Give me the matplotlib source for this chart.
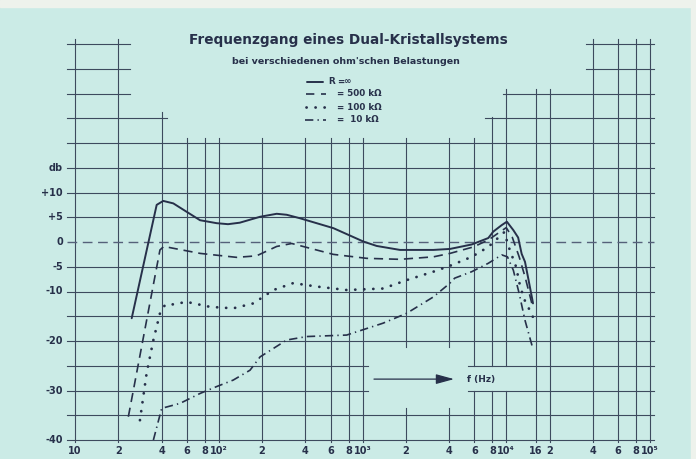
import matplotlib
matplotlib.use("Agg")
import matplotlib.pyplot as plt
from matplotlib import font_manager
from matplotlib.lines import Line2D
from matplotlib.patches import Rectangle

# ---------------- data ----------------
freq_inf = [24.8, 37.0, 41.1, 48.3, 59.8, 74.1, 96.8, 116, 140, 194, 253, 297, 367, 627,
            1013, 1256, 1824, 3110, 4064, 5750, 7500, 8123, 9290, 10100, 11200, 12100,
            12800, 13500, 14300, 15200, 15350]
db_inf = [-15.4, 7.5, 8.3, 7.8, 6.1, 4.4, 3.8, 3.6, 3.9, 5.1, 5.7, 5.5, 4.8, 2.8,
          0.1, -0.8, -1.6, -1.6, -1.4, -0.5, 0.8, 2.1, 3.4, 4.1, 2.4, 0.9,
          -2.4, -4.0, -7.7, -11.7, -12.4]

freq_500k = [23.5, 39.0, 41.5, 74.1, 133, 183, 253, 322, 410, 627, 1070, 1824, 3110,
             4064, 5900, 7500, 9000, 10000, 11000, 12300, 13500, 14500, 15300]
db_500k = [-35.3, -1.6, -0.9, -2.3, -3.1, -2.8, -0.9, -0.3, -1.1, -2.5, -3.3, -3.5, -3.0,
           -2.3, -1.0, 0.4, 2.0, 2.9, 1.0, -3.0, -7.0, -10.5, -13.2]

freq_100k = [28.3, 31.5, 35.1, 39.0, 42.3, 45.8, 59.8, 86.8, 126, 174, 240, 330, 480,
             776, 1390, 2030, 3110, 4064, 5750, 7500, 9700, 10400, 11700, 12500, 13400,
             14400, 15300]
db_100k = [-36.0, -26.5, -19.8, -14.4, -12.7, -12.7, -12.1, -13.1, -13.4, -12.4, -9.7, -8.3,
           -9.0, -9.7, -9.4, -7.7, -6.0, -4.8, -3.0, -1.0, 2.0, -1.0, -5.0, -9.0, -11.7,
           -13.5, -15.1]

freq_10k = [35.1, 40.1, 53.8, 74.1, 96.8, 126, 165, 194, 297, 410, 776, 1390, 2030, 3110,
            4064, 4380, 5750, 7500, 9300, 10200, 11200, 12300, 13500, 15300]
db_10k = [-40.0, -33.6, -32.6, -30.6, -29.2, -27.9, -25.9, -23.2, -19.8, -19.1, -18.8, -16.4,
          -14.4, -11.1, -8.3, -7.3, -6.0, -4.3, -2.6, -3.0, -5.7, -10.4, -15.8, -21.5]

title = "Frequenzgang eines Dual-Kristallsystems"
subtitle = "bei verschiedenen ohm'schen Belastungen"
legend_labels = ["=\u221e", "= 500 k\u03a9", "= 100 k\u03a9", "=  10 k\u03a9"]
y_label_vals = [15, 10, 5, 0, -5, -10, -20, -30, -40]
y_label_txt = ["db", "+10", "+5", "0", "-5", "-10", "-20", "-30", "-40"]
x_tick_freqs = [10, 20, 40, 60, 80, 100, 200, 400, 600, 800, 1000, 2000, 4000, 6000,
                8000, 10000, 16000, 20000, 40000, 60000, 80000, 100000]
x_tick_txt = ["10", "2", "4", "6", "8", "10\u00b2", "2", "4", "6", "8", "10\u00b3", "2",
              "4", "6", "8", "10\u2074", "16", "2", "4", "6", "8", "10\u2075"]

# ---------------- style ----------------
names = {f.name for f in font_manager.fontManager.ttflist}
narrow = "Liberation Sans Narrow" if "Liberation Sans Narrow" in names else "DejaVu Sans"
FAM = [narrow, "DejaVu Sans"]
BG = "#cbebe6"
GRID = "#3d4a5e"
INK = "#27304a"

W, H = 696, 459
fig = plt.figure(figsize=(W / 100, H / 100), dpi=100, facecolor=BG)
ax = fig.add_axes([75 / W, 19 / H, 575 / W, 396 / H])
ax.set_xscale("log")
ax.set_xlim(10, 1e5)
ax.set_ylim(-40, 40)
ax.axis("off")

# paper strips of the scan
fig.add_artist(Rectangle((0, 1 - 7 / H), 1, 7 / H, transform=fig.transFigure,
                         color="#eef2ec", zorder=0))
fig.add_artist(Rectangle((1 - 5 / W, 0), 5 / W, 1, transform=fig.transFigure,
                         color="#eef2ec", zorder=0))

# ---------------- paper grid ----------------
LX, RX = 8.8, 1.06e5
h_segments = {
    40: [(LX, 24), (36000, RX)],
    35: [(LX, 24), (36000, RX)],
    30: [(LX, 24), (9500, RX)],
    25: [(LX, 44), (7100, RX)],
    -25: [(LX, 1090), (5420, RX)],
    -30: [(LX, 1090), (5420, RX)],
}
for lvl in range(20, -45, -5):
    if lvl == 0:
        continue
    h_segments.setdefault(lvl, [(LX, RX)])
for lvl, segs in h_segments.items():
    for a, b in segs:
        ax.plot([a, b], [lvl, lvl], color=GRID, lw=0.8, clip_on=False, zorder=1)

B = -40.4
v_segments = {
    10: [(B, 41)], 20: [(B, 41)], 40: [(B, 26.2)],
    2000: [(B, -33.5), (-21.2, 21)], 4000: [(B, -33.5), (-21.2, 21)],
    6000: [(B, -30), (-25, 21)], 8000: [(B, -30), (-25, 25.3)],
    10000: [(B, -30), (-25, 31)], 16000: [(B, 31)], 20000: [(B, 31)],
    40000: [(B, 41)], 60000: [(B, 41)], 80000: [(B, 41)], 100000: [(B, 41)],
}
for f in [60, 80, 100, 200, 400, 600, 800, 1000]:
    v_segments[f] = [(B, 21)]
for f, segs in v_segments.items():
    for a, b in segs:
        ax.plot([f, f], [a, b], color=GRID, lw=0.8, clip_on=False, zorder=1)

# zero reference (dashed)
ax.plot([LX, RX], [0, 0], color="#55617a", lw=1.0, ls=(0, (7, 4)), clip_on=False, zorder=1)

# ---------------- curves ----------------
ST_SOLID = dict(color=INK, lw=1.4, ls="-", solid_capstyle="round", solid_joinstyle="round")
ST_DASH = dict(color=INK, lw=1.2, ls=(0, (5.5, 3.5)))
ST_DOT = dict(color=INK, lw=2.0, ls=(0, (0.05, 3.2)), dash_capstyle="round")
ST_DDOT = dict(color=INK, lw=1.2, ls=(0, (5, 2.5, 0.8, 2.5)))

ax.plot(freq_inf, db_inf, zorder=3, clip_on=False, **ST_SOLID)
ax.plot(freq_500k, db_500k, zorder=3, clip_on=False, **ST_DASH)
ax.plot(freq_100k, db_100k, zorder=3, clip_on=False, **ST_DOT)
ax.plot(freq_10k, db_10k, zorder=3, clip_on=False, **ST_DDOT)

# ---------------- labels ----------------
ytr = ax.get_yaxis_transform()
for v, t in zip(y_label_vals, y_label_txt):
    ax.text(-12 / 575, v, t, transform=ytr, ha="right", va="center", fontsize=7,
            fontweight="bold", color=INK, family=FAM)
for f, t in zip(x_tick_freqs, x_tick_txt):
    ax.text(f, -42.3, t, ha="center", va="center", fontsize=7, fontweight="bold",
            color=INK, family=FAM, clip_on=False)

# arrow + f (Hz)
ax.annotate("", xy=(4335, -27.7), xytext=(1202, -27.7),
            arrowprops=dict(arrowstyle="-|>,head_length=1.1,head_width=0.3",
                            color=INK, lw=0.9, shrinkA=0, shrinkB=0))
ax.text(5335, -27.7, "f (Hz)", ha="left", va="center", fontsize=6.5, fontweight="bold",
        color=INK, family=FAM)

# title
fig.text(348 / W, 1 - 40 / H, title, ha="center", va="center", fontsize=9.8,
         fontweight="bold", color=INK, family=FAM)
fig.text(232 / W, 1 - 61 / H, subtitle, ha="left", va="center", fontsize=6.8,
         fontweight="bold", color=INK, family=FAM)

# legend
leg_y = [82, 94, 107, 120]
leg_styles = [ST_SOLID, ST_DASH, ST_DOT, ST_DDOT]
leg_x = [(307, 323), (306, 326), (306, 327), (305, 326)]
for (x0, x1), y, st, lab in zip(leg_x, leg_y, leg_styles, legend_labels):
    st2 = dict(st)
    if st2.get("ls") == (0, (5.5, 3.5)):
        st2["ls"] = (0, (5, 4))
    fig.add_artist(Line2D([x0 / W, x1 / W], [1 - y / H, 1 - y / H],
                          transform=fig.transFigure, **st2))
    fig.text(337 / W, 1 - y / H, lab, ha="left", va="center", fontsize=6.3,
             fontweight="bold", color=INK, family=FAM)
fig.text(328 / W, 1 - 82 / H, "R", ha="left", va="center", fontsize=6.3,
         fontweight="bold", color=INK, family=FAM)

fig.savefig("out.png", dpi=100, facecolor=BG)
